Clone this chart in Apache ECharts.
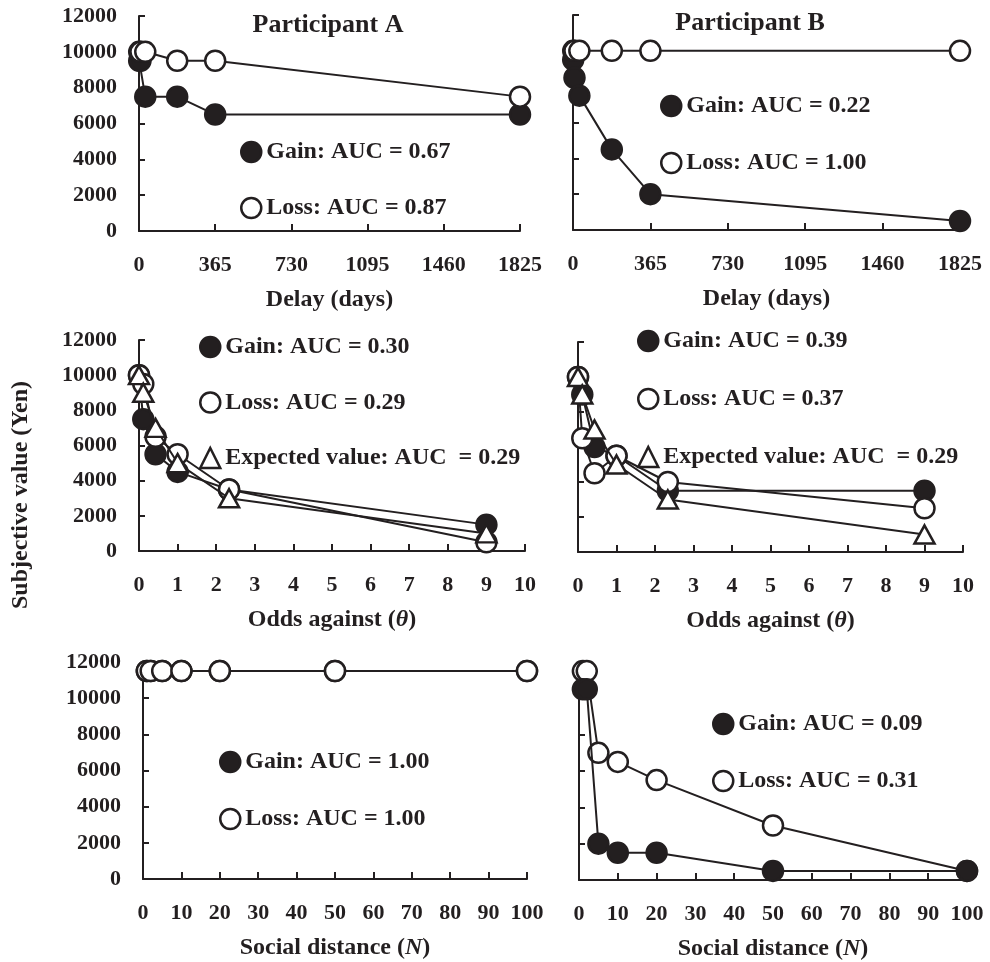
<!DOCTYPE html>
<html>
<head>
<meta charset="utf-8">
<script src="https://cdn.jsdelivr.net/npm/echarts@6/dist/echarts.min.js"></script>
<style>html,body{margin:0;padding:0;background:#fff}#c{width:990px;height:962px}</style>
</head>
<body>
<div id="c"></div>
<script>
// ---- data ----
const delays = [1, 7, 30, 183, 365, 1825];
const gainA = [9500, 9500, 7500, 7500, 6500, 6500];
const lossA = [10000, 10000, 10000, 9500, 9500, 7500];
const gainB = [9500, 8500, 7500, 4500, 2000, 500];
const lossB = [10000, 10000, 10000, 10000, 10000, 10000];

const odds = [0, 0.111, 0.429, 1, 2.333, 9];
const gainC = [10000, 7500, 5500, 4500, 3500, 1500];
const lossC = [10000, 9500, 6500, 5500, 3500, 500];
const evC = [10000, 9000, 7000, 5000, 3000, 1000];
const gainD = [10000, 9000, 6000, 5500, 3500, 3500];
const lossD = [10000, 6500, 4500, 5500, 4000, 2500];
const evD = [10000, 9000, 7000, 5000, 3000, 1000];

const socialN = [1, 2, 5, 10, 20, 50, 100];
const gainE = [11500, 11500, 11500, 11500, 11500, 11500, 11500];
const lossE = [11500, 11500, 11500, 11500, 11500, 11500, 11500];
const gainF = [10500, 10500, 2000, 1500, 1500, 500, 500];
const lossF = [11500, 11500, 7000, 6500, 5500, 3000, 500];

const legendA = ['Gain: AUC = 0.67', 'Loss: AUC = 0.87'];
const legendB = ['Gain: AUC = 0.22', 'Loss: AUC = 1.00'];
const legendC = ['Gain: AUC = 0.30', 'Loss: AUC = 0.29', 'Expected value: AUC  = 0.29'];
const legendD = ['Gain: AUC = 0.39', 'Loss: AUC = 0.37', 'Expected value: AUC  = 0.29'];
const legendE = ['Gain: AUC = 1.00', 'Loss: AUC = 1.00'];
const legendF = ['Gain: AUC = 0.09', 'Loss: AUC = 0.31'];

// ---- style ----
const INK = '#231f20';
const FONT = '"Liberation Serif", "Times New Roman", serif';
const zip = (xs, ys) => xs.map((x, i) => [x, ys[i]]);
const plain = v => String(v);

const grids = [
  {left: 139, top: 16, width: 381, height: 215},
  {left: 573, top: 15, width: 387, height: 215},
  {left: 139, top: 340, width: 386, height: 211},
  {left: 578, top: 342, width: 385, height: 210},
  {left: 143, top: 662, width: 384, height: 217},
  {left: 579, top: 662, width: 388, height: 220}
];

function xAx(i, min, max, interval, name) {
  return {
    type: 'value', gridIndex: i, min: min, max: max, interval: interval,
    axisLine: {show: true, onZero: false, lineStyle: {color: INK, width: 2}},
    axisTick: {show: true, inside: true, length: 7, lineStyle: {color: INK, width: 2}},
    axisLabel: {margin: 23, fontSize: 22, fontFamily: FONT, fontWeight: 'bold', color: INK, formatter: plain},
    splitLine: {show: false},
    name: name, nameLocation: 'middle', nameGap: 57,
    nameTextStyle: {fontSize: 24, fontFamily: FONT, fontWeight: 'bold', color: INK,
      rich: {i: {fontSize: 24, fontFamily: FONT, fontWeight: 'bold', fontStyle: 'italic', color: INK}}}
  };
}
function yAx(i, showLabel) {
  return {
    type: 'value', gridIndex: i, min: 0, max: 12000, interval: 2000,
    axisLine: {show: true, onZero: false, lineStyle: {color: INK, width: 2}},
    axisTick: {show: true, inside: true, length: 6, lineStyle: {color: INK, width: 2}},
    axisLabel: {show: showLabel, margin: 22, fontSize: 22, fontFamily: FONT, fontWeight: 'bold', color: INK, formatter: plain},
    splitLine: {show: false}
  };
}
function ser(name, i, xs, ys, kind, z) {
  const filled = kind === 'gain';
  return {
    name: name, type: 'line', xAxisIndex: i, yAxisIndex: i,
    data: zip(xs, ys), clip: false, z: z,
    symbol: kind === 'ev' ? 'triangle' : 'circle',
    symbolSize: kind === 'ev' ? [20, 18] : 20,
    showAllSymbol: true,
    lineStyle: {color: INK, width: 2},
    itemStyle: {color: filled ? INK : '#fff', borderColor: INK, borderWidth: 2.5},
    emphasis: {disabled: true},
    animation: false
  };
}
function leg(names, left, top, gap) {
  const kinds = ['gain', 'loss', 'ev'];
  return {
    orient: 'vertical', left: left, top: top, itemGap: gap,
    itemWidth: 20, itemHeight: 20, selectedMode: false, padding: 0,
    textStyle: {fontSize: 24, fontFamily: FONT, fontWeight: 'bold', color: INK, lineHeight: 20},
    data: names.map((n, k) => ({
      name: n,
      icon: kinds[k] === 'ev' ? 'triangle' : 'circle',
      itemStyle: {color: kinds[k] === 'gain' ? INK : '#fff', borderColor: INK, borderWidth: 2.5}
    }))
  };
}

const option = {
  backgroundColor: '#fff',
  animation: false,
  grid: grids,
  xAxis: [
    xAx(0, 0, 1825, 365, 'Delay (days)'),
    xAx(1, 0, 1825, 365, 'Delay (days)'),
    xAx(2, 0, 10, 1, 'Odds against ({i|θ})'),
    xAx(3, 0, 10, 1, 'Odds against ({i|θ})'),
    xAx(4, 0, 100, 10, 'Social distance ({i|N})'),
    xAx(5, 0, 100, 10, 'Social distance ({i|N})')
  ],
  yAxis: [yAx(0, true), yAx(1, false), yAx(2, true), yAx(3, false), yAx(4, true), yAx(5, false)],
  legend: [
    leg(legendA, 240, 140, 32),
    leg(legendB, 660, 94, 33),
    leg(legendC, 199, 335, 31.5),
    leg(legendD, 637, 329, 34),
    leg(legendE, 219, 750, 33),
    leg(legendF, 712, 712, 33)
  ],
  series: [
    ser(legendA[0], 0, delays, gainA, 'gain', 2),
    ser(legendA[1], 0, delays, lossA, 'loss', 3),
    ser(legendB[0], 1, delays, gainB, 'gain', 2),
    ser(legendB[1], 1, delays, lossB, 'loss', 3),
    ser(legendC[0], 2, odds, gainC, 'gain', 2),
    ser(legendC[1], 2, odds, lossC, 'loss', 3),
    ser(legendC[2], 2, odds, evC, 'ev', 4),
    ser(legendD[0], 3, odds, gainD, 'gain', 2),
    ser(legendD[1], 3, odds, lossD, 'loss', 3),
    ser(legendD[2], 3, odds, evD, 'ev', 4),
    ser(legendE[0], 4, socialN, gainE, 'gain', 2),
    ser(legendE[1], 4, socialN, lossE, 'loss', 3),
    ser(legendF[0], 5, socialN, gainF, 'gain', 3),
    ser(legendF[1], 5, socialN, lossF, 'loss', 2)
  ],
  graphic: [
    {type: 'text', x: 328, y: 25, style: {text: 'Participant A', fontSize: 26, fontFamily: FONT, fontWeight: 'bold', fill: INK, textAlign: 'center', textVerticalAlign: 'middle'}},
    {type: 'text', x: 750, y: 23, style: {text: 'Participant B', fontSize: 26, fontFamily: FONT, fontWeight: 'bold', fill: INK, textAlign: 'center', textVerticalAlign: 'middle'}},
    {type: 'text', x: 21, y: 495, rotation: Math.PI / 2, style: {text: 'Subjective value (Yen)', fontSize: 24, fontFamily: FONT, fontWeight: 'bold', fill: INK, textAlign: 'center', textVerticalAlign: 'middle'}}
  ]
};

const chart = echarts.init(document.getElementById('c'), null, {renderer: 'canvas'});
chart.setOption(option);
</script>
</body>
</html>
